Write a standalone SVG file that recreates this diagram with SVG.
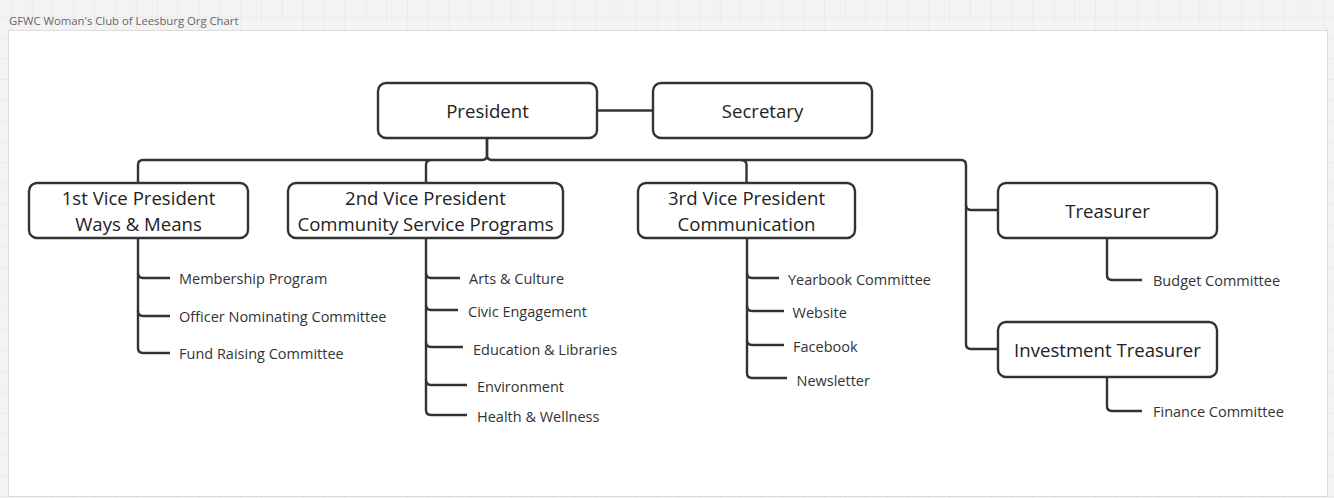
<svg xmlns="http://www.w3.org/2000/svg" width="1334" height="498" viewBox="0 0 1334 498">
  <defs>
    <pattern id="grid" x="10.8" y="16.5" width="20.85" height="20.85" patternUnits="userSpaceOnUse">
      <rect width="20.85" height="20.85" fill="#f3f3f3"/>
      <path d="M0,0 H20.85 M0,0 V20.85" stroke="#e4e4e4" stroke-width="1" fill="none"/>
    </pattern>
    <style>
      .node rect { fill: #ffffff; stroke: #333333; stroke-width: 2.4; }
      .node text { font-family: "Open Sans", "Liberation Sans", sans-serif; font-size: 18.6px; fill: #222222; text-anchor: middle; dominant-baseline: central; }
      .conn path { fill: none; stroke: #333333; stroke-width: 2.4; stroke-linejoin: round; }
      .leaf text { font-family: "Open Sans", "Liberation Sans", sans-serif; font-size: 14.5px; fill: #333333; dominant-baseline: central; }
      .title { font-family: "Open Sans", "Liberation Sans", sans-serif; font-size: 11.3px; fill: #666666; dominant-baseline: central; }
    </style>
  </defs>

  <rect x="0" y="0" width="1334" height="498" fill="url(#grid)"/>
  <rect x="8.5" y="30.5" width="1319" height="466" fill="#ffffff" stroke="#dcdcdc" stroke-width="1"/>
  <text class="title" x="9" y="20">GFWC Woman's Club of Leesburg Org Chart</text>

  <g id="connectors" class="conn">
    <path d="M597,110.5 H653"/>
    <path d="M487,138 V155 Q487,160 482,160 H143 Q138,160 138,165 V183"/>
    <path d="M487,138 V155 Q487,160 492,160 H961 Q966,160 966,165 V344 Q966,349 971,349 H998"/>
    <path d="M431,160 Q426,160 426,165 V183"/>
    <path d="M741,160 Q746.5,160 746.5,165 V183"/>
    <path d="M966,205 Q966,210 971,210 H998"/>
    <!-- 1st VP children -->
    <path d="M138,238 V348 Q138,353 143,353 H170"/>
    <path d="M138,273 Q138,278 143,278 H170"/>
    <path d="M138,311 Q138,316 143,316 H170"/>
    <!-- 2nd VP children -->
    <path d="M426,238 V410 Q426,415 431,415 H467"/>
    <path d="M426,273 Q426,278 431,278 H460"/>
    <path d="M426,305 Q426,310 431,310 H458"/>
    <path d="M426,342 Q426,347 431,347 H463"/>
    <path d="M426,380 Q426,385 431,385 H467"/>
    <!-- 3rd VP children -->
    <path d="M747,238 V373 Q747,378 752,378 H787"/>
    <path d="M747,273 Q747,278 752,278 H779"/>
    <path d="M747,306 Q747,311 752,311 H784"/>
    <path d="M747,340 Q747,345 752,345 H784"/>
    <!-- Treasurer children -->
    <path d="M1107,238 V275 Q1107,280 1112,280 H1142"/>
    <path d="M1107,377 V406 Q1107,411 1112,411 H1142"/>
  </g>

  <g id="president" class="node">
    <rect x="378" y="83" width="219" height="55" rx="8"/>
    <text x="487.5" y="110.5">President</text>
  </g>
  <g id="secretary" class="node">
    <rect x="653" y="83" width="219" height="55" rx="8"/>
    <text x="762.5" y="110.5">Secretary</text>
  </g>
  <g id="vp1" class="node">
    <rect x="29" y="183" width="219" height="55" rx="8"/>
    <text x="138.5" y="197.5">1st Vice President</text>
    <text x="138.5" y="223.5">Ways &amp; Means</text>
  </g>
  <g id="vp2" class="node">
    <rect x="288" y="183" width="275" height="55" rx="8"/>
    <text x="425.5" y="197.5">2nd Vice President</text>
    <text x="425.5" y="223.5">Community Service Programs</text>
  </g>
  <g id="vp3" class="node">
    <rect x="638" y="183" width="217" height="55" rx="8"/>
    <text x="746.5" y="197.5">3rd Vice President</text>
    <text x="746.5" y="223.5">Communication</text>
  </g>
  <g id="treasurer" class="node">
    <rect x="998" y="183" width="219" height="55" rx="8"/>
    <text x="1107.5" y="210.5">Treasurer</text>
  </g>
  <g id="investment-treasurer" class="node">
    <rect x="998" y="322" width="219" height="55" rx="8"/>
    <text x="1107.5" y="349.5">Investment Treasurer</text>
  </g>

  <g id="vp1-children" class="leaf">
    <text x="179" y="278">Membership Program</text>
    <text x="179" y="316">Officer Nominating Committee</text>
    <text x="179" y="353.5">Fund Raising Committee</text>
  </g>
  <g id="vp2-children" class="leaf">
    <text x="469" y="278">Arts &amp; Culture</text>
    <text x="468" y="311.5">Civic Engagement</text>
    <text x="473" y="349">Education &amp; Libraries</text>
    <text x="477" y="386.5">Environment</text>
    <text x="477" y="416.5">Health &amp; Wellness</text>
  </g>
  <g id="vp3-children" class="leaf">
    <text x="788" y="279">Yearbook Committee</text>
    <text x="792.5" y="312">Website</text>
    <text x="793" y="346">Facebook</text>
    <text x="796.5" y="380">Newsletter</text>
  </g>
  <g id="treasurer-children" class="leaf">
    <text x="1153" y="280">Budget Committee</text>
    <text x="1153" y="411.5">Finance Committee</text>
  </g>
</svg>
